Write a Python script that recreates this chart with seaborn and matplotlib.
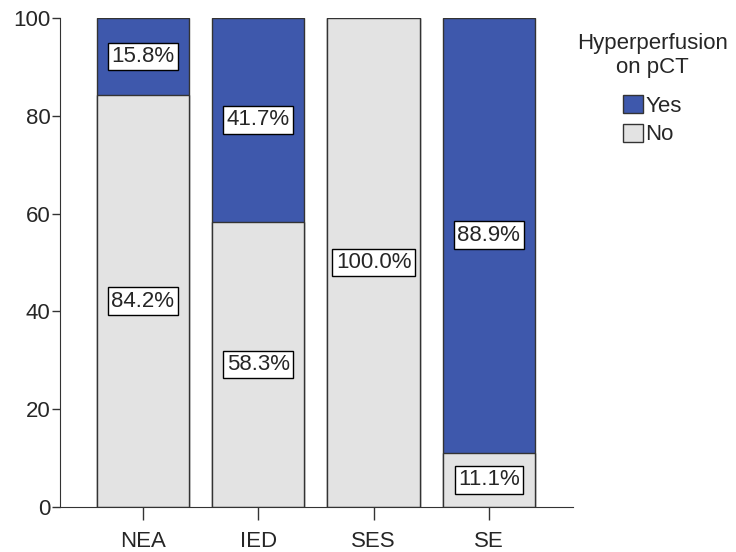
import pandas as pd
import seaborn as sns
import matplotlib.pyplot as plt
from matplotlib.patches import Patch

# Datos
grupos = ["NEA", "IED", "SES", "SE"]
pct_yes = [15.8, 41.7, 0.0, 88.9]
pct_no = [84.2, 58.3, 100.0, 11.1]

color_yes = "#3E58AC"
color_no = "#E3E3E3"
borde = "#333333"

sns.set_style("ticks")
plt.rcParams["font.family"] = ["Liberation Sans", "DejaVu Sans"]

df = pd.DataFrame({"grupo": grupos, "yes": pct_yes, "no": pct_no})
df["total"] = df["yes"] + df["no"]

fig = plt.figure(figsize=(7.36, 5.52), dpi=100)
ax = fig.add_axes([0.0815, 0.0815, 0.697, 0.886])

# Barras apiladas: total (Yes) y encima No
sns.barplot(data=df, x="grupo", y="total", color=color_yes, width=0.8,
            edgecolor=borde, linewidth=1, saturation=1, ax=ax)
sns.barplot(data=df, x="grupo", y="no", color=color_no, width=0.8,
            edgecolor=borde, linewidth=1, saturation=1, ax=ax)

# Etiquetas de porcentaje
caja = dict(boxstyle="square,pad=0.15", facecolor="white", edgecolor="black", linewidth=1)
for i, fila in df.iterrows():
    if fila["no"] > 0:
        ax.text(i, fila["no"] / 2, f"{fila['no']:.1f}%", ha="center", va="center",
                fontsize=16, bbox=caja)
    if fila["yes"] > 0:
        ax.text(i, fila["no"] + fila["yes"] / 2, f"{fila['yes']:.1f}%", ha="center",
                va="center", fontsize=16, bbox=caja)

ax.set_xlim(-0.72, 3.73)
ax.set_ylim(0, 100)
ax.set_yticks([0, 20, 40, 60, 80, 100])
ax.set_xlabel("")
ax.set_ylabel("")
ax.tick_params(axis="y", labelsize=16, length=6, width=1, pad=1, color=borde)
ax.tick_params(axis="x", labelsize=16, length=9, width=1, pad=8, color=borde)
for s in ["top", "right"]:
    ax.spines[s].set_visible(False)
for s in ["left", "bottom"]:
    ax.spines[s].set_color(borde)

# Leyenda
handles = [Patch(facecolor=color_yes, edgecolor=borde, label="Yes"),
           Patch(facecolor=color_no, edgecolor=borde, label="No")]
leg = fig.legend(handles=handles, title="Hyperperfusion\non pCT", loc="upper left",
                 bbox_to_anchor=(0.784, 0.94), frameon=False, fontsize=16,
                 title_fontsize=16, handlelength=0.9, handleheight=0.9,
                 handletextpad=0.1, labelspacing=0.3, borderpad=0, borderaxespad=0)
leg.get_title().set_multialignment("center")
leg._legend_box.sep = 12

fig.savefig("out.png", dpi=100)
